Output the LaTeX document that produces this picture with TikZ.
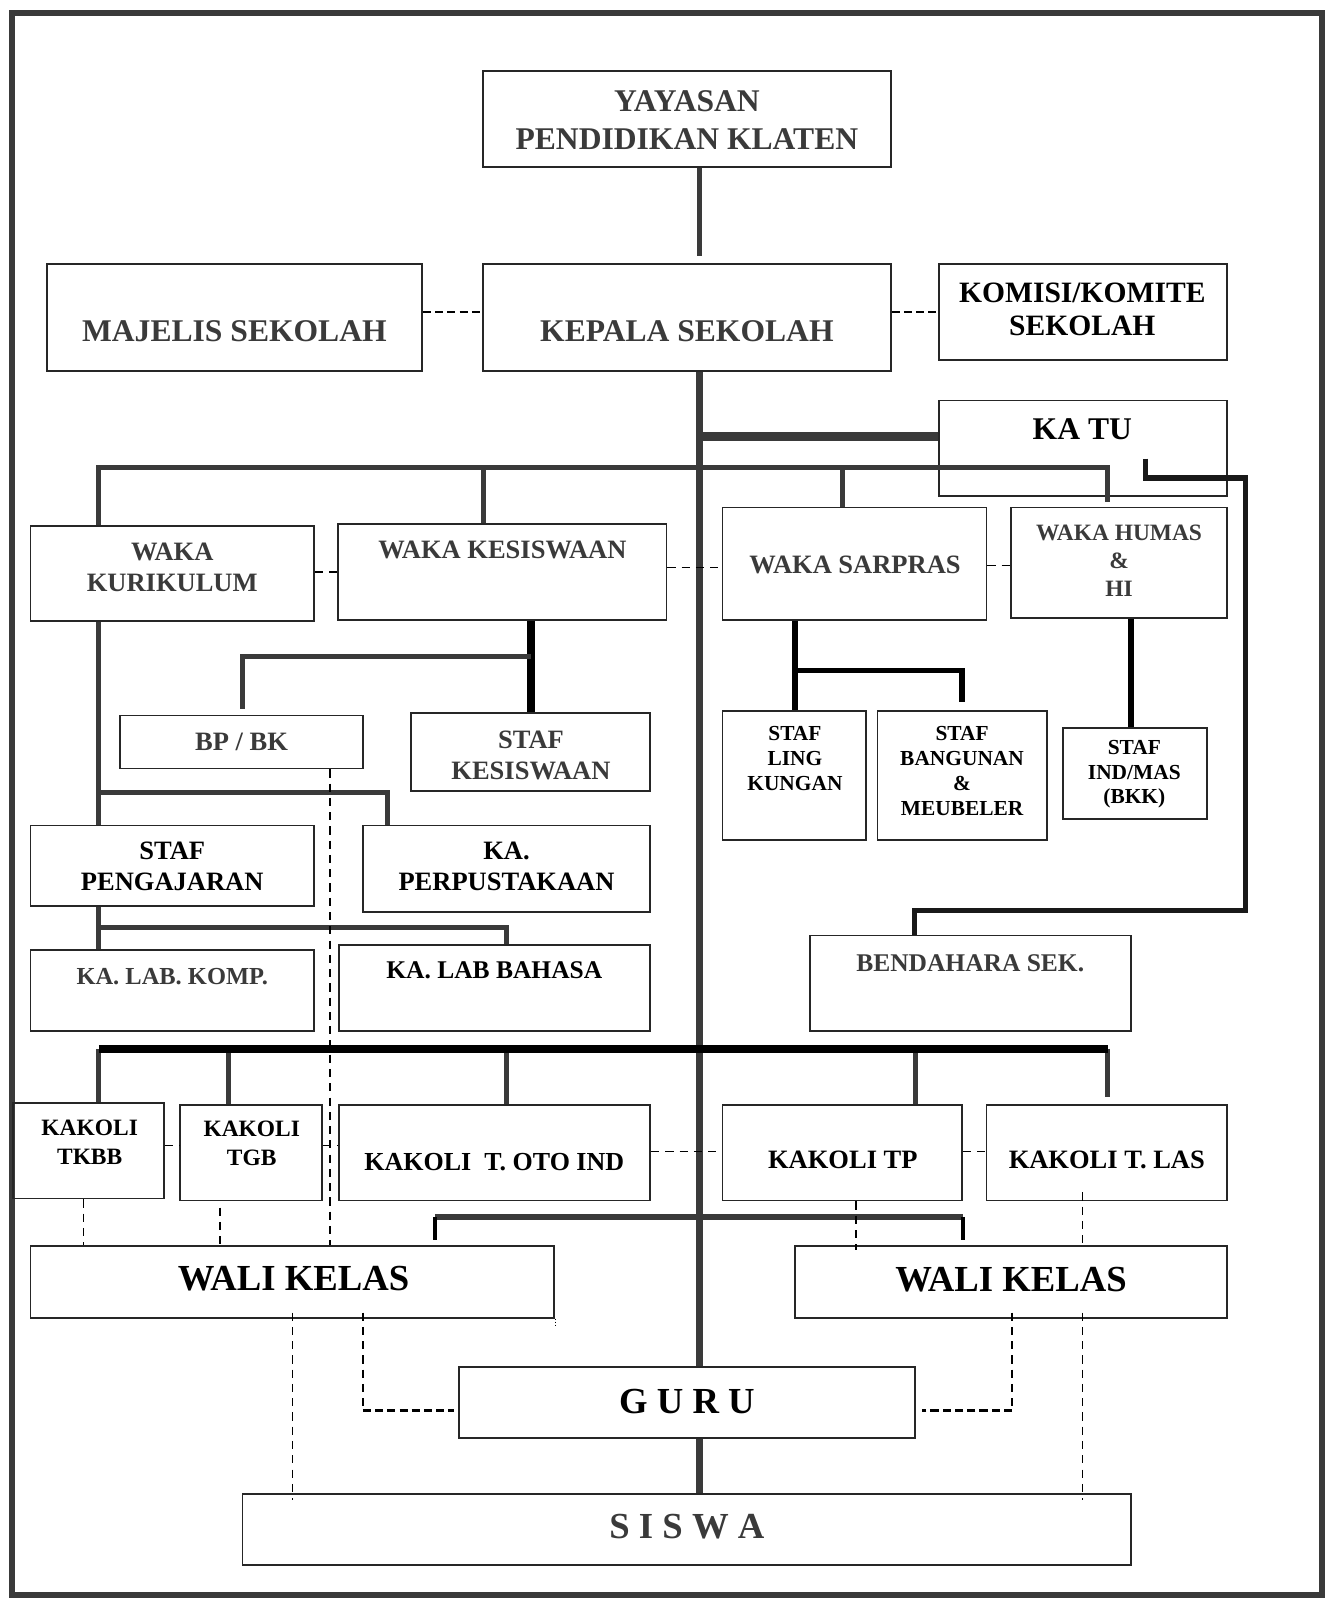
\documentclass[tikz,border=0pt]{standalone}
\usepackage{fontspec}
\setmainfont{Liberation Serif}
\usetikzlibrary{fit,calc}
\definecolor{lg}{HTML}{3A3A3A}
\definecolor{tg}{HTML}{3A3A3A}
\newcommand\fz[2]{\fontsize{#1}{#2}\selectfont\bfseries}
\begin{document}
\begin{tikzpicture}[x=1pt,y=-1pt,
  box/.style={draw=black!85, line width=1.8pt, inner sep=0pt},
  txt/.style={inner sep=0pt, align=center, text=black},
  txg/.style={txt, text=tg},
  conn/.style={draw=lg, line width=5pt},
  connk/.style={draw=black, line width=6pt},
  dsh/.style={draw=black, line width=1.6pt, dash pattern=on 8pt off 6pt},
  dshk/.style={draw=black, line width=2.3pt, dash pattern=on 8pt off 4pt},
]
\useasboundingbox (0,0) rectangle (1304,1568);
\fill[white] (0,0) rectangle (1304,1568);
\draw[draw=lg, line width=6pt] (12,13) rectangle (1297,1565);

% ---------- boxes ----------
\node[box, fit={(474,70)(874,164)}] (yay) {};
\node[box, fit={(46,259)(414,364)}] (maj) {};
\node[box, fit={(474,259)(874,364)}] (kep) {};
\node[box, fit={(921,259)(1204,353)}] (kom) {};
\node[box, fit={(921,393)(1204,487)}] (katu) {};
\node[box, fit={(30,516)(308,609)}] (kur) {};
\node[box, fit={(332,514)(654,608)}] (kes) {};
\node[box, fit={(709,498)(968,608)}] (sar) {};
\node[box, fit={(992,498)(1204,606)}] (hum) {};
\node[box, fit={(118,702)(356,754)}] (bp) {};
\node[box, fit={(403,700)(638,776)}] (sk) {};
\node[box, fit={(709,698)(850,824)}] (sl) {};
\node[box, fit={(861,698)(1027,824)}] (sb) {};
\node[box, fit={(1043,714)(1184,804)}] (si) {};
\node[box, fit={(30,810)(308,889)}] (sp) {};
\node[box, fit={(356,810)(638,895)}] (perp) {};
\node[box, fit={(30,932)(308,1012)}] (lk) {};
\node[box, fit={(333,927)(638,1012)}] (lb) {};
\node[box, fit={(795,918)(1110,1012)}] (ben) {};
\node[box, fit={(13,1082)(161,1176)}] (tkbb) {};
\node[box, fit={(177,1084)(316,1178)}] (tgb) {};
\node[box, fit={(333,1084)(638,1178)}] (oto) {};
\node[box, fit={(709,1084)(944,1178)}] (tp) {};
\node[box, fit={(968,1084)(1204,1178)}] (las) {};
\node[box, fit={(30,1223)(544,1293)}] (wl) {};
\node[box, fit={(780,1223)(1204,1293)}] (wr) {};
\node[box, fit={(450,1341)(898,1411)}] (guru) {};
\node[box, fit={(238,1466)(1110,1536)}] (sis) {};

% ---------- texts ----------
\node[txg, font=\fz{31}{37}] (yay-t) at (674,117.5) {YAYASAN\\PENDIDIKAN KLATEN};
\node[txg, font=\fz{31}{37}] (maj-t) at (230,325) {MAJELIS SEKOLAH};
\node[txg, font=\fz{31}{37}] (kep-t) at (674,325) {KEPALA SEKOLAH};
\node[txt, font=\fz{29}{33}] (kom-t) at (1062,303.5) {KOMISI/KOMITE\\SEKOLAH};
\node[txt, font=\fz{31}{37}] (katu-t) at (1062,421) {KA TU};
\node[txg, font=\fz{26}{30}] (kur-t) at (169,557) {WAKA\\KURIKULUM};
\node[txg, font=\fz{26}{30}] (kes-t) at (493,540) {WAKA KESISWAAN};
\node[txg, font=\fz{26}{30}] (sar-t) at (839,554) {WAKA SARPRAS};
\node[txg, font=\fz{23}{27.5}] (hum-t) at (1098,550.5) {WAKA HUMAS\\\&\\HI};
\node[txg, font=\fz{26}{30}] (bp-t) at (237,728) {BP / BK};
\node[txg, font=\fz{26}{30}] (sk-t) at (521,741) {STAF\\KESISWAAN};
\node[txt, font=\fz{21}{24.5}] (sl-t) at (780,744.5) {STAF\\LING\\KUNGAN};
\node[txt, font=\fz{21}{24.3}] (sb-t) at (944,756.5) {STAF\\BANGUNAN\\\&\\MEUBELER};
\node[txt, font=\fz{21}{24}] (si-t) at (1113,760) {STAF\\IND/MAS\\(BKK)};
\node[txt, font=\fz{26}{30}] (sp-t) at (169,850) {STAF\\PENGAJARAN};
\node[txt, font=\fz{26}{30}] (perp-t) at (497,850) {KA.\\PERPUSTAKAAN};
\node[txg, font=\fz{24}{28}] (lk-t) at (169,958) {KA. LAB. KOMP.};
\node[txt, font=\fz{25}{29}] (lb-t) at (485,952) {KA. LAB BAHASA};
\node[txg, font=\fz{25}{29}] (ben-t) at (952,945) {BENDAHARA SEK.};
\node[txt, font=\fz{23}{28}] (tkbb-t) at (88,1121) {KAKOLI\\TKBB};
\node[txt, font=\fz{23}{28}] (tgb-t) at (247,1122) {KAKOLI\\TGB};
\node[txt, font=\fz{25.5}{30}] (oto-t) at (485,1140) {KAKOLI\ \ T. OTO IND};
\node[txt, font=\fz{26}{30}] (tp-t) at (827,1138) {KAKOLI TP};
\node[txt, font=\fz{26}{30}] (las-t) at (1086,1138) {KAKOLI T. LAS};
\node[txt, font=\fz{36}{40}] (wl-t) at (288,1255) {WALI KELAS};
\node[txt, font=\fz{36}{40}] (wr-t) at (992,1256) {WALI KELAS};
\node[txt, font=\fz{36}{40}] (guru-t) at (674,1375) {G U R U};
\node[txg, font=\fz{36}{40}] (sis-t) at (674,1498) {S I S W A};

% ---------- reference coordinates ----------
\coordinate (xT) at (686,0);
\coordinate (x82) at (82,0);
\coordinate (x97) at (97,0);
\coordinate (x216) at (216,0);
\coordinate (x224) at (224,0);
\coordinate (x238) at (238,0);
\coordinate (x287) at (287,0);
\coordinate (x324) at (324,0);
\coordinate (x356) at (356,0);
\coordinate (x380) at (380,0);
\coordinate (x427) at (427,0);
\coordinate (x474) at (474,0);
\coordinate (x497) at (497,0);
\coordinate (x521) at (521,0);
\coordinate (x780) at (780,0);
\coordinate (x827) at (827,0);
\coordinate (x840) at (840,0);
\coordinate (x897) at (897,0);
\coordinate (x898) at (898,0);
\coordinate (x944) at (944,0);
\coordinate (x945) at (945,0);
\coordinate (x993) at (993,0);
\coordinate (x1062) at (1062,0);
\coordinate (x1087) at (1087,0);
\coordinate (x1110) at (1110,0);
\coordinate (x1222) at (1222,0);
\coordinate (yA) at (0,306);
\coordinate (yB) at (0,428);
\coordinate (yC) at (0,459);
\coordinate (yD) at (0,469);
\coordinate (yE) at (0,893);
\coordinate (yF) at (0,778);
\coordinate (yG) at (0,644);
\coordinate (yH) at (0,910);
\coordinate (yI) at (0,658);
\coordinate (yJ) at (0,1029);
\coordinate (yK) at (0,1194);
\coordinate (yL) at (0,561);
\coordinate (yM) at (0,557);
\coordinate (yN) at (0,555);
\coordinate (yO) at (0,1124);
\coordinate (yP) at (0,1130);
\coordinate (yQ) at (0,1384);
\coordinate (kt0) at (1124,450);
\coordinate (las0) at (1062,1170);

% ---------- solid connectors ----------
\draw[conn] (yay.south -| xT) -- ($(kep.north -| xT)+(0,-7)$);
\draw[conn, line width=7pt] (kep.south -| xT) -- (guru.north -| xT);
\draw[conn, line width=7pt] (guru.south -| xT) -- (sis.north -| xT);
\draw[conn, line width=9pt] (xT |- yB) -- (katu.west |- yB);

\draw[conn] (kur.north -| x97) -- (x97 |- yC) -- (x1087 |- yC) -- ($(hum.north -| x1087)+(0,-5)$);
\draw[conn] (x474 |- yC) -- (kes.north -| x474);
\draw[conn] (x827 |- yC) -- (sar.north -| x827);

\draw[conn, draw=black!90] (kt0) -- (kt0 |- yD) -- (x1222 |- yD) -- (x1222 |- yE) -- (x897 |- yE) -- (ben.north -| x897);

\draw[conn] (kur.south -| x97) -- (sp.north -| x97);
\draw[conn] (x97 |- yF) -- (x380 |- yF) -- (perp.north -| x380);

\draw[connk, line width=7pt] (kes.south -| x521) -- (sk.north -| x521);
\draw[conn] (x521 |- yG) -- (x238 |- yG) -- ($(bp.north -| x238)+(0,-5)$);

\draw[conn] (sp.south -| x97) -- (lk.north -| x97);
\draw[conn] (x97 |- yH) -- (x497 |- yH) -- (lb.north -| x497);

\draw[connk, line width=5.5pt] (sar.south -| x780) -- (sl.north -| x780);
\draw[connk, line width=5.5pt] (x780 |- yI) -- (x944 |- yI) -- ($(sb.north -| x944)+(0,-8)$);

\draw[connk, line width=6pt] (hum.south -| x1110) -- (si.north -| x1110);

\draw[conn] (x97 |- yJ) -- (tkbb.north -| x97);
\draw[conn] (x224 |- yJ) -- (tgb.north -| x224);
\draw[conn] (x497 |- yJ) -- (oto.north -| x497);
\draw[conn] (x898 |- yJ) -- (tp.north -| x898);
\draw[conn] (x1087 |- yJ) -- ($(las.north -| x1087)+(0,-7)$);
\draw[connk, line width=8pt] (x97 |- yJ) -- (x1087 |- yJ);

\draw[conn, line width=6pt] (x427 |- yK) -- (x945 |- yK);
\draw[connk, line width=4.5pt] (x427 |- yK) -- ($(wl.north -| x427)+(0,-5)$);
\draw[connk, line width=4.5pt] (x945 |- yK) -- ($(wr.north -| x945)+(0,-5)$);

% ---------- dashed connectors ----------
\draw[dshk] (maj.east |- yA) -- (kep.west |- yA);
\draw[dshk] (kep.east |- yA) -- (kom.west |- yA);
\draw[dsh] (kur.east |- yL) -- (kes.west |- yL);
\draw[dsh] (kes.east |- yM) -- (sar.west |- yM);
\draw[dsh] (sar.east |- yN) -- (hum.west |- yN);
\draw[dsh] (tkbb.east |- yO) -- (tgb.west |- yO);
\draw[dsh] (tgb.east |- yO) -- (oto.west |- yO);
\draw[dsh] (oto.east |- yP) -- (tp.west |- yP);
\draw[dsh] (tp.east |- yP) -- (las.west |- yP);

\draw[dsh] (tkbb.south -| x82) -- (wl.north -| x82);
\draw[dsh] ($(tgb.south -| x216)+(0,6)$) -- (wl.north -| x216);
\draw[dsh] (bp.south -| x324) -- (wl.north -| x324);
\draw[dsh] (tp.south -| x840) -- ($(wr.north -| x840)+(0,4)$);
\draw[dsh] (las0) -- (wr.north -| x1062);
\draw[draw=black, line width=1pt, dash pattern=on 1.5pt off 1.5pt] (wl.south east) -- ($(wl.south east)+(0,9)$);

\draw[dsh] ($(wl.south -| x287)+(0,-6)$) -- ($(sis.north -| x287)+(0,7)$);
\draw[dsh] ($(wl.south -| x356)+(0,-6)$) -- (x356 |- yQ);
\draw[dshk] (x356 |- yQ) -- ($(guru.west |- yQ)+(-4,0)$);
\draw[dsh] ($(wr.south -| x993)+(0,-6)$) -- (x993 |- yQ);
\draw[dshk] (x993 |- yQ) -- ($(guru.east |- yQ)+(6,0)$);
\draw[dsh] ($(wr.south -| x1062)+(0,-6)$) -- ($(sis.north -| x1062)+(0,7)$);
\end{tikzpicture}
\end{document}
